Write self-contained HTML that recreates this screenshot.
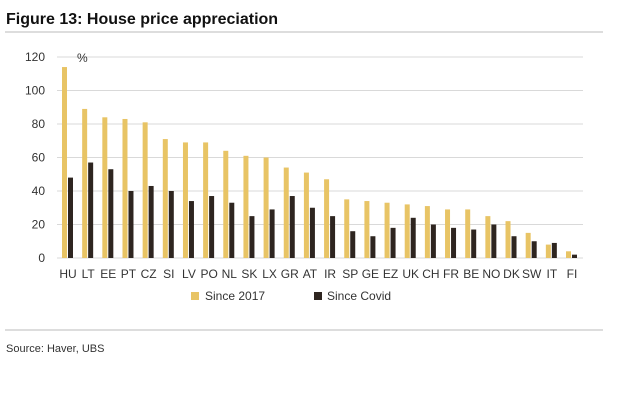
<!DOCTYPE html>
<html><head><meta charset="utf-8"><style>
body{margin:0;background:#fff;width:624px;height:406px;overflow:hidden;font-family:"Liberation Sans",sans-serif}
</style></head><body>
<svg width="624" height="406">
<text x="6" y="24" font-size="16" font-weight="bold" fill="#111">Figure 13: House price appreciation</text>
<line x1="5" y1="32" x2="603" y2="32" stroke="#bbb"/>
<g id="grid"></g><g id="bars"></g><g id="labels"></g>
<text x="77" y="62" font-size="12" fill="#333">%</text>
<rect x="191" y="292" width="8" height="8" fill="#e8c465"/>
<text x="205" y="300" font-size="12" fill="#333">Since 2017</text>
<rect x="314" y="292" width="8" height="8" fill="#2e2520"/>
<text x="327" y="300" font-size="12" fill="#333">Since Covid</text>
<line x1="5" y1="330" x2="603" y2="330" stroke="#bbb"/>
<text x="6" y="352" font-size="11" fill="#333">Source: Haver, UBS</text>
</svg>
<script>
const categories=["HU","LT","EE","PT","CZ","SI","LV","PO","NL","SK","LX","GR","AT","IR","SP","GE","EZ","UK","CH","FR","BE","NO","DK","SW","IT","FI"];
const since2017=[114,89,84,83,81,71,69,69,64,61,60,54,51,47,35,34,33,32,31,29,29,25,22,15,8,4];
const sinceCovid=[48,57,53,40,43,40,34,37,33,25,29,37,30,25,16,13,18,24,20,18,17,20,13,10,9,2];
const ticks=[0,20,40,60,80,100,120];
const NS="http://www.w3.org/2000/svg";
const y=v=>258-v*(201/120);
const x0=68, step=(572-68)/(categories.length-1);
const xc=i=>x0+i*step;
function mk(t,a,p){const e=document.createElementNS(NS,t);for(const k in a)e.setAttribute(k,a[k]);document.getElementById(p).appendChild(e);return e;}
ticks.forEach(t=>{
 const l=mk("line",{x1:57,x2:583,y1:y(t),y2:y(t),stroke:"#d9d9d9"},"grid");
 
 
 const tx=mk("text",{x:45,y:y(t)+4,"font-size":12,fill:"#333","text-anchor":"end"},"labels");
 tx.textContent=t;
 
 
});
categories.forEach((c,i)=>{
 const a=mk("rect",{x:xc(i)-6,y:y(since2017[i]),width:5,height:258-y(since2017[i]),fill:"#e8c465"},"bars");
 
 
 const b=mk("rect",{x:xc(i),y:y(sinceCovid[i]),width:5,height:258-y(sinceCovid[i]),fill:"#2e2520"},"bars");
 
 
 const t=mk("text",{x:xc(i),y:278,"font-size":12,fill:"#333","text-anchor":"middle"},"labels");
 t.textContent=c;
 
 
});
</script>
</body></html>
